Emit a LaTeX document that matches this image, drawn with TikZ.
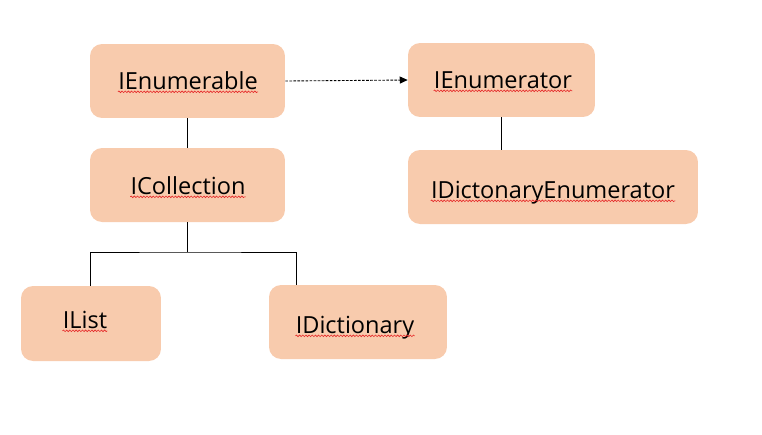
\documentclass[tikz,border=0pt]{standalone}
\usepackage{fontspec}
\setmainfont{Open Sans}
\usepackage{xcolor}
\usetikzlibrary{arrows.meta, decorations.pathmorphing}
\definecolor{ifFill}{RGB}{248,203,173}
\definecolor{spellRed}{RGB}{230,40,40}

\begin{document}
\begin{tikzpicture}[
    x=0.02cm, y=-0.02cm,
    box/.style={fill=ifFill, rounded corners=0.24cm, minimum height=1.48cm, inner sep=0pt},
    ttl/.style={anchor=base, inner sep=0pt, font=\fontsize{13.4}{16}\selectfont},
    link/.style={line width=0.5pt},
    spell/.style={spellRed, line width=0.35pt, decorate,
                  decoration={snake, amplitude=0.45pt, segment length=1.8pt}}
  ]
  \useasboundingbox (0,0) rectangle (762,434);

  % boxes
  \node[box, minimum width=3.9cm] (enumerable) at (187.5,81) {};
  \node[box, minimum width=3.74cm] (enumerator) at (501.5,80) {};
  \node[box, minimum width=3.9cm] (collection) at (187.5,185) {};
  \node[box, minimum width=5.8cm] (dictenum) at (553,187) {};
  \node[box, minimum width=2.8cm, minimum height=1.5cm] (list) at (91,323.5) {};
  \node[box, minimum width=3.56cm] (dictionary) at (358,322) {};

  % labels
  \node[ttl] (enumerableT) at (188,89) {IEnumerable};
  \node[ttl] (enumeratorT) at (503,88) {IEnumerator};
  \node[ttl] (collectionT) at (188,194) {ICollection};
  \node[ttl] (dictenumT) at (553,198) {IDictonaryEnumerator};
  \node[ttl] (listT) at (85,328) {IList};
  \node[ttl] (dictionaryT) at (355,333) {IDictionary};

  % spell check marks
  \foreach \t in {enumerableT, enumeratorT, collectionT, dictenumT, listT, dictionaryT}
    \draw[spell] ([yshift=-1.6pt]\t.base west) -- ([yshift=-1.6pt]\t.base east);

  % connectors
  \draw[link, dash pattern=on 1.5pt off 0.8pt, -{Triangle[length=4.5pt, width=4pt]}]
    (enumerable.east) -- (enumerator.west);
  \draw[link] (enumerable.south) -- (collection.north);
  \draw[link] (enumerator.south) -- (enumerator.south |- dictenum.north);
  \coordinate (split) at (187.5,252);
  \coordinate (listTop) at (90,0);
  \coordinate (dictTop) at (296,0);
  \draw[link] (collection.south) -- (split);
  \draw[link] (listTop |- list.north) |- (split) -| (dictTop |- dictionary.north);
\end{tikzpicture}
\end{document}
